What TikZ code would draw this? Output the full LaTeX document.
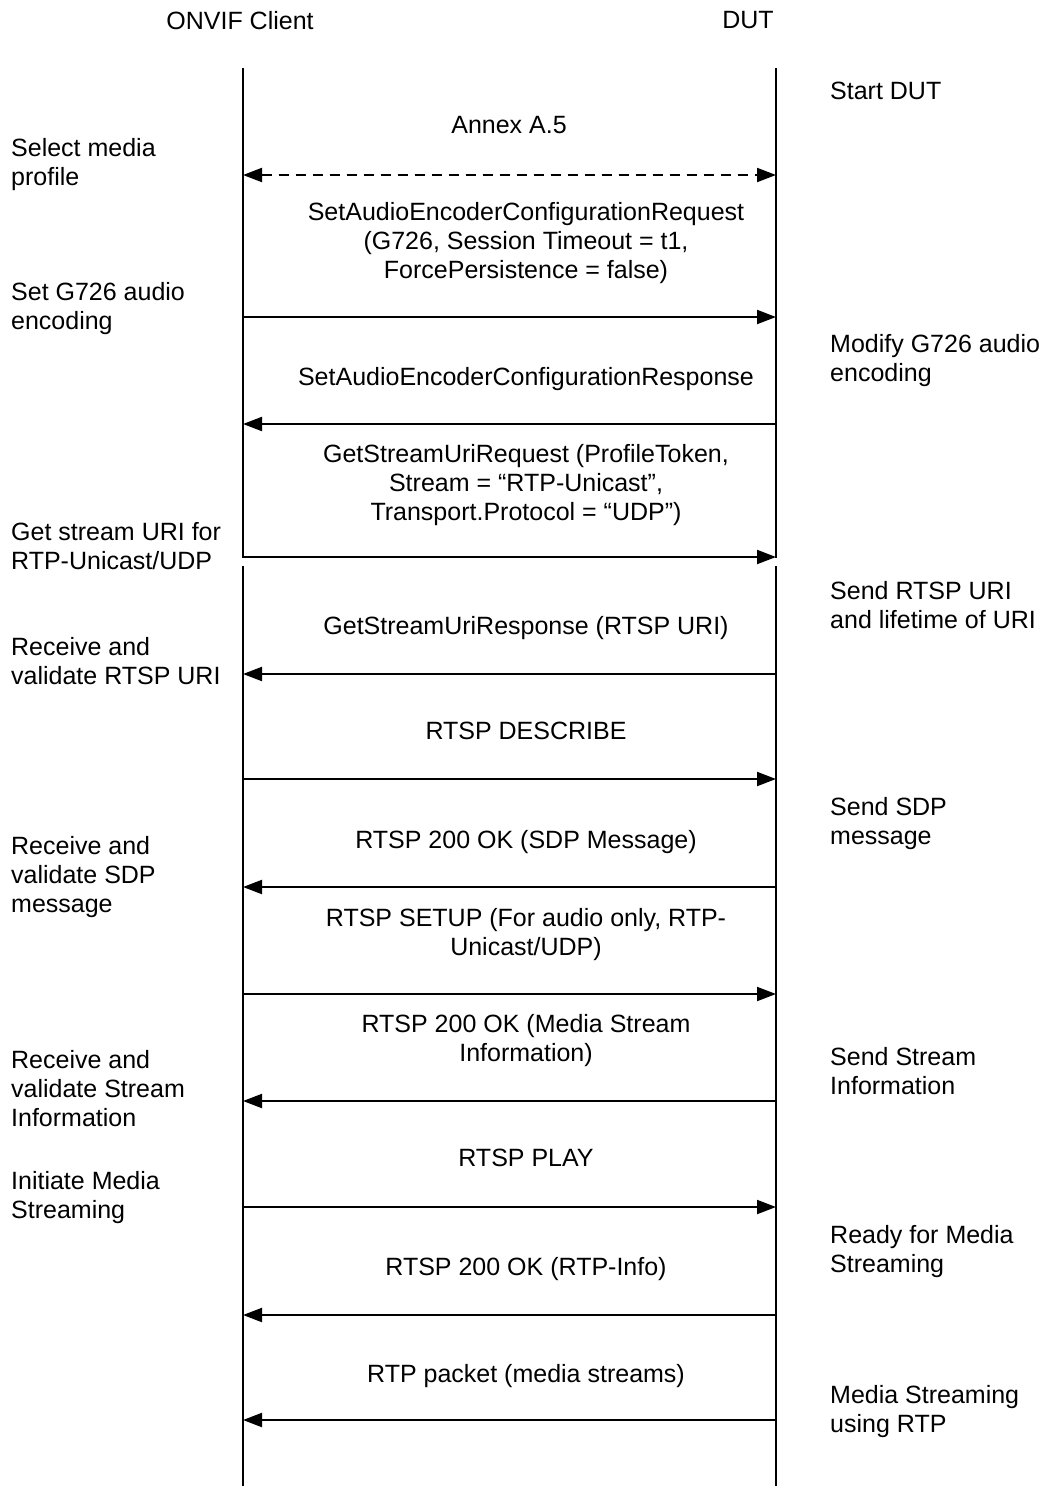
\documentclass[tikz,border=0pt]{standalone}
\usepackage{fontspec}
\setmainfont{Liberation Sans}
\usetikzlibrary{arrows.meta}
\begin{document}
\begin{tikzpicture}[x=1pt,y=-1pt,font=\fontsize{25}{29}\selectfont,
  msg/.style={line width=2pt,-{Triangle[length=19pt,width=14pt]}},
  dmsg/.style={line width=2pt,dash pattern=on 10pt off 7pt,{Triangle[length=19pt,width=14pt]}-{Triangle[length=19pt,width=14pt]}},
  life/.style={line width=2pt},
  lbl/.style={anchor=north west,align=left,inner sep=0pt},
  mtxt/.style={anchor=north,align=center,inner sep=0pt},
  hdr/.style={anchor=north,inner sep=0pt}]
\useasboundingbox (0,0) rectangle (1047,1486);
% headers
\node[hdr] (hc) at (240,11) {ONVIF Client};
\node[hdr] (hd) at (748,11) {DUT};
% lifelines
\coordinate (cT) at (243,68); \coordinate (cB1) at (243,558);
\coordinate (cT2) at (243,566); \coordinate (cB) at (243,1486);
\coordinate (dT) at (776,68); \coordinate (dB1) at (776,558);
\coordinate (dT2) at (776,566); \coordinate (dB) at (776,1486);
\draw[life] (cT) -- (cB1); \draw[life] (cT2) -- (cB);
\draw[life] (dT) -- (dB1); \draw[life] (dT2) -- (dB);
% left labels
\node[lbl] (l1) at (11,138) {Select media\\profile};
\node[lbl] (l2) at (11,282) {Set G726 audio\\encoding};
\node[lbl] (l3) at (11,522) {Get stream URI for\\RTP-Unicast/UDP};
\node[lbl] (l4) at (11,637) {Receive and\\validate RTSP URI};
\node[lbl] (l5) at (11,836) {Receive and\\validate SDP\\message};
\node[lbl] (l6) at (11,1050) {Receive and\\validate Stream\\Information};
\node[lbl] (l7) at (11,1171) {Initiate Media\\Streaming};
% right labels
\node[lbl] (r1) at (830,82) {Start DUT};
\node[lbl] (r2) at (830,334) {Modify G726 audio\\encoding};
\node[lbl] (r3) at (830,581) {Send RTSP URI\\and lifetime of URI};
\node[lbl] (r4) at (830,797) {Send SDP\\message};
\node[lbl] (r5) at (830,1047) {Send Stream\\Information};
\node[lbl] (r6) at (830,1225) {Ready for Media\\Streaming};
\node[lbl] (r7) at (830,1385) {Media Streaming\\using RTP};
% message texts
\node[mtxt] (m1) at (509,116) {Annex A.5};
\node[mtxt] (m2) at (526,202) {SetAudioEncoderConfigurationRequest\\(G726, Session Timeout = t1,\\ForcePersistence = false)};
\node[mtxt] (m3) at (526,367) {SetAudioEncoderConfigurationResponse};
\node[mtxt] (m4) at (526,444) {GetStreamUriRequest (ProfileToken,\\Stream = “RTP-Unicast”,\\Transport.Protocol = “UDP”)};
\node[mtxt] (m5) at (526,616) {GetStreamUriResponse (RTSP URI)};
\node[mtxt] (m6) at (526,722) {RTSP DESCRIBE};
\node[mtxt] (m7) at (526,830) {RTSP 200 OK (SDP Message)};
\node[mtxt] (m8) at (526,908) {RTSP SETUP (For audio only, RTP-\\Unicast/UDP)};
\node[mtxt] (m9) at (526,1014) {RTSP 200 OK (Media Stream\\Information)};
\node[mtxt] (m10) at (526,1149) {RTSP PLAY};
\node[mtxt] (m11) at (526,1257) {RTSP 200 OK (RTP-Info)};
\node[mtxt] (m12) at (526,1364) {RTP packet (media streams)};
% arrow endpoints
\foreach \n/\y in {1/175,2/317,3/424,4/557,5/674,6/779,7/887,8/994,9/1101,10/1207,11/1315,12/1420}{
  \coordinate (c\n) at (243,\y);
  \coordinate (d\n) at (776,\y);
}
\draw[dmsg] (c1) -- (d1);
\draw[msg] (c2) -- (d2);
\draw[msg] (d3) -- (c3);
\draw[msg] (c4) -- (d4);
\draw[msg] (d5) -- (c5);
\draw[msg] (c6) -- (d6);
\draw[msg] (d7) -- (c7);
\draw[msg] (c8) -- (d8);
\draw[msg] (d9) -- (c9);
\draw[msg] (c10) -- (d10);
\draw[msg] (d11) -- (c11);
\draw[msg] (d12) -- (c12);
\end{tikzpicture}
\end{document}
